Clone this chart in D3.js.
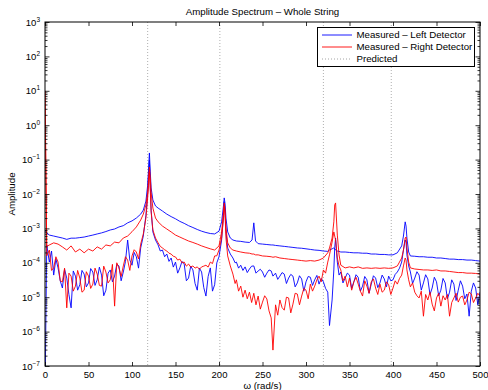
<!DOCTYPE html>
<html>
<head>
<meta charset="utf-8">
<script src="https://cdn.jsdelivr.net/npm/d3@7"></script>
<style>
  html, body { margin: 0; padding: 0; background: #fff; }
  svg { display: block; font-family: "Liberation Sans", Arial, Helvetica, sans-serif; }
</style>
</head>
<body>
<svg id="chart" width="488" height="390"></svg>
<script>
// ---------------- DATA ----------------
// frequency grid for the smooth (upper) traces
const omega = [
  0,2,5,10,15,20,25,30,35,40,
  45,50,55,60,65,70,75,80,85,90,
  95,100,105,110,113,116,118,119,120,121,
  122,124,127,130,135,140,145,150,155,160,
  165,170,175,180,185,190,195,200,203,205,
  206,207,208,210,213,216,220,225,230,235,
  238,240,242,245,250,255,260,262,265,270,
  275,280,285,290,295,300,305,310,315,320,
  325,327,330,332,333,334,336,338,340,345,
  350,355,360,365,370,375,380,385,390,395,
  400,405,410,412,414,415,416,418,420,425,
  430,435,440,445,450,455,460,465,470,475,
  480,485,490,495,500
];

// finer frequency grid for the noisy (lower) traces
const omegaFine = [
  0,2,5,7.5,10,12.5,15,17.5,20,22.5,
  25,27.5,30,32.5,35,37.5,40,42.5,45,47.5,
  50,52.5,55,57.5,60,62.5,65,67.5,70,72.5,
  75,77.5,80,82.5,85,87.5,90,92.5,95,97.5,
  100,102.5,105,107.5,110,113,116,118,119,120,
  121,122,124,127,130,132.5,135,137.5,140,142.5,
  145,147.5,150,152.5,155,157.5,160,162.5,165,167.5,
  170,172.5,175,177.5,180,182.5,185,187.5,190,192.5,
  195,197.5,200,203,205,206,207,208,210,213,
  216,218.5,220,222.5,225,227.5,230,232.5,235,237.5,
  240,242.5,245,247.5,250,252.5,255,257.5,260,262,
  265,267.5,270,272.5,275,277.5,280,282.5,285,287.5,
  290,292.5,295,297.5,300,302.5,305,307.5,310,312.5,
  315,317.5,320,322.5,325,327,330,332,333,334,
  336,338,340,342.5,345,347.5,350,352.5,355,357.5,
  360,362.5,365,367.5,370,372.5,375,377.5,380,382.5,
  385,387.5,390,392.5,395,397.5,400,402.5,405,407.5,
  410,412,414,415,416,418,420,422.5,425,427.5,
  430,432.5,435,437.5,440,442.5,445,447.5,450,452.5,
  455,457.5,460,462.5,465,467.5,470,472.5,475,477.5,
  480,482.5,485,487.5,490,492.5,495,497.5,500
];

// Measured – Left Detector (blue), upper trace  (on omega)
const leftUpper = [
  9.0e-4,7.4e-4,6.4e-4,6.0e-4,5.6e-4,5.25e-4,4.8e-4,5.2e-4,5.2e-4,5.4e-4,
  5.6e-4,6.0e-4,6.4e-4,6.9e-4,7.4e-4,8.1e-4,9.0e-4,9.6e-4,1.1e-3,1.2e-3,
  1.45e-3,1.65e-3,2.0e-3,2.6e-3,3.4e-3,6.2e-3,1.8e-2,5.0e-2,0.156,4.4e-2,
  1.5e-2,6.7e-3,4.5e-3,3.9e-3,3.2e-3,2.6e-3,2.2e-3,1.9e-3,1.6e-3,1.4e-3,
  1.2e-3,1.06e-3,9.3e-4,8.3e-4,7.6e-4,7.1e-4,6.9e-4,8.3e-4,1.55e-3,4.2e-3,
  7.7e-3,5.2e-3,2.0e-3,7.9e-4,5.25e-4,4.6e-4,4.3e-4,4.2e-4,4.0e-4,3.9e-4,
  4.6e-4,1.45e-3,4.3e-4,3.6e-4,3.5e-4,3.4e-4,3.3e-4,3.3e-4,3.2e-4,3.1e-4,
  3.0e-4,2.9e-4,2.8e-4,2.7e-4,2.65e-4,2.55e-4,2.45e-4,2.35e-4,2.3e-4,2.2e-4,
  2.15e-4,2.35e-4,2.55e-4,2.7e-4,2.55e-4,2.35e-4,2.2e-4,2.15e-4,2.06e-4,2.06e-4,
  2.0e-4,1.95e-4,1.95e-4,1.9e-4,1.9e-4,1.8e-4,1.8e-4,1.75e-4,1.75e-4,1.7e-4,
  1.7e-4,1.95e-4,3.1e-4,6.0e-4,1.55e-3,1.17e-3,5.25e-4,2.06e-4,1.58e-4,1.55e-4,
  1.5e-4,1.5e-4,1.45e-4,1.45e-4,1.38e-4,1.38e-4,1.33e-4,1.28e-4,1.28e-4,1.24e-4,
  1.24e-4,1.2e-4,1.2e-4,1.16e-4,1.12e-4
];

// Measured – Left Detector (blue), lower trace  (on omegaFine)
const leftLower = [
  1e-8,3.3e-4,1.05e-4,2.2e-4,4.4e-5,1.3e-4,7.1e-5,3.0e-5,1.85e-5,6.5e-5,
  3.6e-5,1.2e-5,4.9e-6,5.8e-5,4.1e-5,1.6e-5,2.3e-5,6.0e-5,4.7e-5,2.0e-5,
  2.6e-5,6.8e-5,5.4e-5,2.2e-5,3.2e-5,7.5e-5,4.4e-5,1.1e-5,1.6e-5,5.0e-5,
  6.2e-5,2.8e-5,4.1e-5,9.0e-5,8.1e-5,3.0e-5,5.4e-5,1.1e-4,4.6e-4,1.2e-4,
  8.5e-5,2.0e-4,1.5e-4,7.0e-5,2.7e-4,6.0e-4,2.4e-3,1.1e-2,3.6e-2,9.7e-2,
  1.8e-2,3.4e-3,7.9e-4,4.6e-4,3.3e-4,2.2e-4,2.35e-4,1.5e-4,1.8e-4,1.1e-4,
  1.38e-4,7.5e-5,1.05e-4,5.0e-5,7.1e-5,1.1e-4,9.2e-5,3.0e-5,3.6e-5,8.0e-5,
  6.2e-5,2.5e-5,1.6e-5,7.0e-5,5.4e-5,1.9e-5,1.08e-5,4.0e-5,7.1e-5,1.5e-5,
  2.3e-5,1.0e-4,1.5e-4,4.6e-4,2.4e-3,6.0e-3,3.0e-3,7.9e-4,2.7e-4,1.8e-4,
  1.38e-4,1.0e-4,1.05e-4,7.0e-5,8.5e-5,6.0e-5,7.6e-5,5.2e-5,6.6e-5,8.0e-5,
  8.1e-5,5.0e-5,5.8e-5,6.5e-5,5.4e-5,3.8e-5,5.0e-5,6.2e-5,5.8e-5,4.1e-5,
  5.0e-5,3.3e-5,4.1e-5,5.2e-5,4.7e-5,2.5e-5,3.6e-5,4.6e-5,4.1e-5,2.0e-5,
  2.6e-5,4.2e-5,3.4e-5,1.5e-5,2.8e-5,4.0e-5,3.8e-5,2.2e-5,3.2e-5,4.3e-5,
  2.4e-5,3.5e-5,2.8e-5,1.8e-5,1.4e-5,1.5e-6,8.3e-6,6.2e-5,2.7e-4,5.25e-4,
  1.05e-4,4.4e-5,5.4e-5,2.6e-5,3.6e-5,5.0e-5,4.4e-5,1.8e-5,2.8e-5,4.5e-5,
  3.8e-5,1.5e-5,2.1e-5,4.0e-5,3.2e-5,1.3e-5,2.4e-5,4.2e-5,3.6e-5,1.9e-5,
  2.6e-5,4.4e-5,3.4e-5,2.0e-5,4.1e-5,3.0e-5,3.2e-5,4.6e-5,5.4e-5,7.0e-5,
  1.05e-4,2.35e-4,4.6e-4,4.0e-4,1.7e-4,8.1e-5,5.4e-5,2.5e-5,3.6e-5,5.5e-5,
  4.4e-5,1.6e-5,2.6e-5,4.5e-5,3.4e-5,1.2e-5,1.85e-5,3.8e-5,2.8e-5,1.1e-5,
  1.6e-5,3.5e-5,2.6e-5,9.0e-6,1.4e-5,3.2e-5,2.4e-5,8.0e-6,1.6e-5,3.0e-5,
  2.1e-5,9.0e-6,1.24e-5,2.8e-6,1.5e-5,2.6e-5,1.85e-5,6.0e-6,1.4e-5
];

// Measured – Right Detector (red), upper trace  (on omega)
const rightUpper = [
  10,3.0e-4,3.3e-4,3.8e-4,3.5e-4,2.9e-4,2.35e-4,3.1e-4,2.06e-4,2.5e-4,
  1.95e-4,2.5e-4,2.2e-4,2.9e-4,2.5e-4,3.3e-4,3.1e-4,4.0e-4,3.8e-4,5.25e-4,
  6.0e-4,8.0e-4,1.1e-3,1.75e-3,2.6e-3,4.8e-3,1.1e-2,2.55e-2,6.1e-2,3.0e-2,
  1.1e-2,3.9e-3,2.0e-3,1.55e-3,1.17e-3,9.6e-4,7.9e-4,6.4e-4,5.6e-4,4.9e-4,
  4.3e-4,3.9e-4,3.5e-4,3.1e-4,2.8e-4,2.55e-4,2.35e-4,3.1e-4,7.9e-4,2.6e-3,
  5.5e-3,3.4e-3,1.03e-3,3.8e-4,2.7e-4,2.35e-4,2.2e-4,2.06e-4,1.95e-4,1.9e-4,
  1.8e-4,1.8e-4,1.7e-4,1.7e-4,1.58e-4,1.55e-4,1.5e-4,1.45e-4,1.5e-4,1.38e-4,
  1.33e-4,1.28e-4,1.24e-4,1.2e-4,1.16e-4,1.12e-4,1.16e-4,1.12e-4,1.2e-4,1.38e-4,
  1.95e-4,2.7e-4,5.25e-4,1.55e-3,4.8e-3,5.5e-3,6.4e-4,1.7e-4,8.5e-5,7.1e-5,
  7.6e-5,7.1e-5,7.6e-5,6.9e-5,7.1e-5,6.9e-5,7.1e-5,6.9e-5,7.1e-5,6.9e-5,
  7.1e-5,8.1e-5,1.38e-4,2.35e-4,5.25e-4,5.6e-4,2.7e-4,1.05e-4,7.1e-5,6.6e-5,
  6.4e-5,6.2e-5,6.2e-5,6.0e-5,6.2e-5,5.8e-5,5.8e-5,5.6e-5,5.4e-5,5.2e-5,
  5.2e-5,5.0e-5,5.0e-5,4.9e-5,4.7e-5
];

// Measured – Right Detector (red), lower trace  (on omegaFine)
const rightLower = [
  10,1.6e-4,2.35e-4,6.0e-5,7.1e-5,1.5e-4,1.05e-4,3.0e-5,2.8e-5,7.0e-5,
  4.9e-6,5.0e-5,4.1e-5,1.5e-5,2.1e-5,6.0e-5,3.6e-5,1.4e-5,1.6e-5,5.5e-5,
  4.1e-5,1.8e-5,2.4e-5,7.0e-5,4.7e-5,2.2e-5,2.1e-5,8.0e-5,5.4e-5,2.6e-5,
  3.2e-5,9.0e-5,5.5e-6,1.0e-4,7.1e-5,4.0e-5,8.1e-5,1.5e-4,1.2e-4,6.0e-5,
  1.58e-4,2.4e-4,2.06e-4,1.3e-4,3.5e-4,6.9e-4,2.0e-3,7.7e-3,1.8e-2,4.4e-2,
  1.3e-2,3.0e-3,9.0e-4,5.25e-4,3.8e-4,3.0e-4,2.7e-4,2.4e-4,2.2e-4,1.9e-4,
  1.8e-4,1.55e-4,1.48e-4,1.2e-4,1.28e-4,1.0e-4,1.05e-4,8.0e-5,9.2e-5,7.5e-5,
  8.1e-5,7.0e-5,7.6e-5,6.5e-5,7.6e-5,8.0e-5,8.5e-5,7.5e-5,1.05e-4,9.5e-5,
  1.58e-4,1.6e-4,2.35e-4,5.25e-4,1.75e-3,4.5e-3,2.4e-3,5.25e-4,1.58e-4,8.1e-5,
  4.7e-5,2.5e-5,3.2e-5,1.5e-5,2.1e-5,1.0e-5,1.6e-5,9.0e-6,1.4e-5,7.0e-6,
  1.3e-5,6.0e-6,1.08e-5,4.5e-6,7.2e-6,1.1e-5,8.9e-6,4.0e-6,2.5e-6,2.9e-7,
  6.0e-6,3.0e-6,8.3e-6,5.0e-6,4.2e-6,1.0e-5,9.5e-6,3.5e-6,6.3e-6,1.3e-5,
  1.24e-5,6.0e-6,1.08e-5,1.8e-5,1.6e-5,9.0e-6,2.4e-5,1.5e-5,2.1e-5,3.2e-5,
  4.1e-5,2.8e-5,6.2e-5,5.0e-5,1.05e-4,1.7e-4,4.0e-4,7.9e-4,6.0e-4,4.6e-4,
  1.38e-4,8.1e-5,6.2e-5,3.0e-5,4.1e-5,2.0e-5,3.6e-5,1.6e-5,2.8e-5,3.8e-5,
  2.4e-5,1.5e-5,1.08e-5,3.0e-5,2.1e-5,1.3e-5,2.8e-5,3.4e-5,1.85e-5,1.2e-5,
  2.4e-5,1.4e-5,1.6e-5,2.8e-5,2.3e-5,1.2e-5,1.85e-5,3.0e-5,2.4e-5,3.5e-5,
  4.4e-5,8.1e-5,1.38e-4,1.2e-4,6.2e-5,3.2e-5,2.0e-5,2.6e-5,1.4e-5,1.1e-5,
  9.5e-6,1.5e-5,2.8e-6,1.2e-5,8.3e-6,1.4e-5,6.3e-6,4.0e-6,9.5e-6,1.3e-5,
  5.5e-6,1.1e-5,8.3e-6,1.2e-5,2.8e-6,7.0e-6,9.5e-6,1.3e-5,7.2e-6,1.0e-5,
  1.08e-5,6.0e-6,8.3e-6,1.4e-5,1.24e-5,7.0e-6,9.5e-6,1.3e-5,1.08e-5
];

// Predicted natural frequencies (rad/s)
const predicted = [118, 201, 320, 398];

const xTickValues = [0, 50, 100, 150, 200, 250, 300, 350, 400, 450, 500];
const yTickExponents = [-7, -6, -5, -4, -3, -2, -1, 0, 1, 2, 3];
const legendLabels = ["Measured \u2013 Left Detector", "Measured \u2013 Right Detector", "Predicted"];
const titleText = "Amplitude Spectrum \u2013 Whole String";
const xLabelText = "\u03c9 (rad/s)";
const yLabelText = "Amplitude";

// ---------------- LAYOUT ----------------
const L = 45, R = 480, T = 22, B = 366;
const svg = d3.select("#chart");
svg.append("rect").attr("width", 488).attr("height", 390).attr("fill", "#fff");

const x = d3.scaleLinear().domain([0, 500]).range([L, R]);
const y = d3.scaleLog().domain([1e-7, 1e3]).range([B, T]);

svg.append("defs").append("clipPath").attr("id", "clip")
  .append("rect").attr("x", L).attr("y", T).attr("width", R - L).attr("height", B - T);

const plot = svg.append("g").attr("clip-path", "url(#clip)");

// predicted dotted lines
plot.selectAll("line.pred").data(predicted).enter().append("line")
  .attr("class", "pred")
  .attr("x1", d => x(d)).attr("x2", d => x(d))
  .attr("y1", y(1e3)).attr("y2", y(1e-7))
  .attr("stroke", "#9a9a9a").attr("stroke-width", 0.8)
  .attr("stroke-dasharray", "1,2");

const line = d3.line().x(d => x(d[0])).y(d => y(d[1]));
const series = [
  { w: omega, v: leftUpper, c: "#0000ff" },
  { w: omegaFine, v: leftLower, c: "#0000ff" },
  { w: omega, v: rightUpper, c: "#ff0000" },
  { w: omegaFine, v: rightLower, c: "#ff0000" }
];
series.forEach(s => {
  const n = Math.min(s.w.length, s.v.length);
  plot.append("path")
    .datum(d3.range(n).map(i => [s.w[i], s.v[i]]))
    .attr("d", line)
    .attr("fill", "none")
    .attr("stroke", s.c)
    .attr("stroke-width", 0.9)
    .attr("stroke-linejoin", "round");
});

// ---------------- AXES ----------------
const minorVals = [];
yTickExponents.slice(0, -1).forEach(e => {
  for (let m = 2; m <= 9; m++) minorVals.push(m * Math.pow(10, e));
});
const majorVals = yTickExponents.map(e => Math.pow(10, e));

const axisStyle = g => {
  g.select(".domain").remove();
  g.selectAll(".tick line").attr("stroke", "#000").attr("stroke-width", 0.8);
};

// bottom
svg.append("g").attr("transform", `translate(0,${B})`)
  .call(d3.axisBottom(x).tickValues(xTickValues).tickSize(-4).tickPadding(5).tickFormat(d3.format("d")))
  .call(axisStyle)
  .call(g => g.selectAll(".tick text").attr("font-size", 9.5).attr("fill", "#000")
      .attr("font-family", "Liberation Sans, Arial, sans-serif"));
// top
svg.append("g").attr("transform", `translate(0,${T})`)
  .call(d3.axisTop(x).tickValues(xTickValues).tickSize(-4).tickFormat(""))
  .call(axisStyle);
// left major + minor
svg.append("g").attr("transform", `translate(${L},0)`)
  .call(d3.axisLeft(y).tickValues(majorVals).tickSize(-4.5).tickFormat(""))
  .call(axisStyle);
svg.append("g").attr("transform", `translate(${L},0)`)
  .call(d3.axisLeft(y).tickValues(minorVals).tickSize(-2.5).tickFormat(""))
  .call(axisStyle);
// right major + minor
svg.append("g").attr("transform", `translate(${R},0)`)
  .call(d3.axisRight(y).tickValues(majorVals).tickSize(-4.5).tickFormat(""))
  .call(axisStyle);
svg.append("g").attr("transform", `translate(${R},0)`)
  .call(d3.axisRight(y).tickValues(minorVals).tickSize(-2.5).tickFormat(""))
  .call(axisStyle);

// y tick labels with superscript exponents
const yl = svg.append("g");
yTickExponents.forEach(e => {
  const t = yl.append("text")
    .attr("x", 40).attr("y", y(Math.pow(10, e)) + 3.5)
    .attr("text-anchor", "end")
    .attr("font-size", 9.5).attr("fill", "#000");
  t.append("tspan").text("10");
  t.append("tspan").attr("dy", -4).attr("font-size", 6.5)
    .text(e < 0 ? "\u2212" + Math.abs(e) : String(e));
});

// box
svg.append("rect").attr("x", L).attr("y", T).attr("width", R - L).attr("height", B - T)
  .attr("fill", "none").attr("stroke", "#000").attr("stroke-width", 1);

// title & labels
svg.append("text").attr("x", (L + R) / 2).attr("y", 14.5)
  .attr("text-anchor", "middle").attr("font-size", 9.7).attr("fill", "#000").text(titleText);
svg.append("text").attr("x", (L + R) / 2).attr("y", 389)
  .attr("text-anchor", "middle").attr("font-size", 9.7).attr("fill", "#000").text(xLabelText);
svg.append("text")
  .attr("transform", `translate(15,${(T + B) / 2}) rotate(-90)`)
  .attr("text-anchor", "middle").attr("font-size", 9.7).attr("fill", "#000").text(yLabelText);

// legend
const lg = svg.append("g");
lg.append("rect").attr("x", 317.5).attr("y", 27.5).attr("width", 157).attr("height", 39)
  .attr("fill", "#fff").attr("stroke", "#000").attr("stroke-width", 1);
const legendStyles = [
  { c: "#0000ff", dash: null },
  { c: "#ff0000", dash: null },
  { c: "#9a9a9a", dash: "1,2" }
];
legendLabels.forEach((lab, i) => {
  const yy = 35 + i * 12;
  const ln = lg.append("line").attr("x1", 322).attr("x2", 352).attr("y1", yy).attr("y2", yy)
    .attr("stroke", legendStyles[i].c).attr("stroke-width", 0.9);
  if (legendStyles[i].dash) ln.attr("stroke-dasharray", legendStyles[i].dash);
  lg.append("text").attr("x", 356.5).attr("y", yy + 3.4)
    .attr("font-size", 9.7).attr("fill", "#000").text(lab);
});
</script>
</body>
</html>
